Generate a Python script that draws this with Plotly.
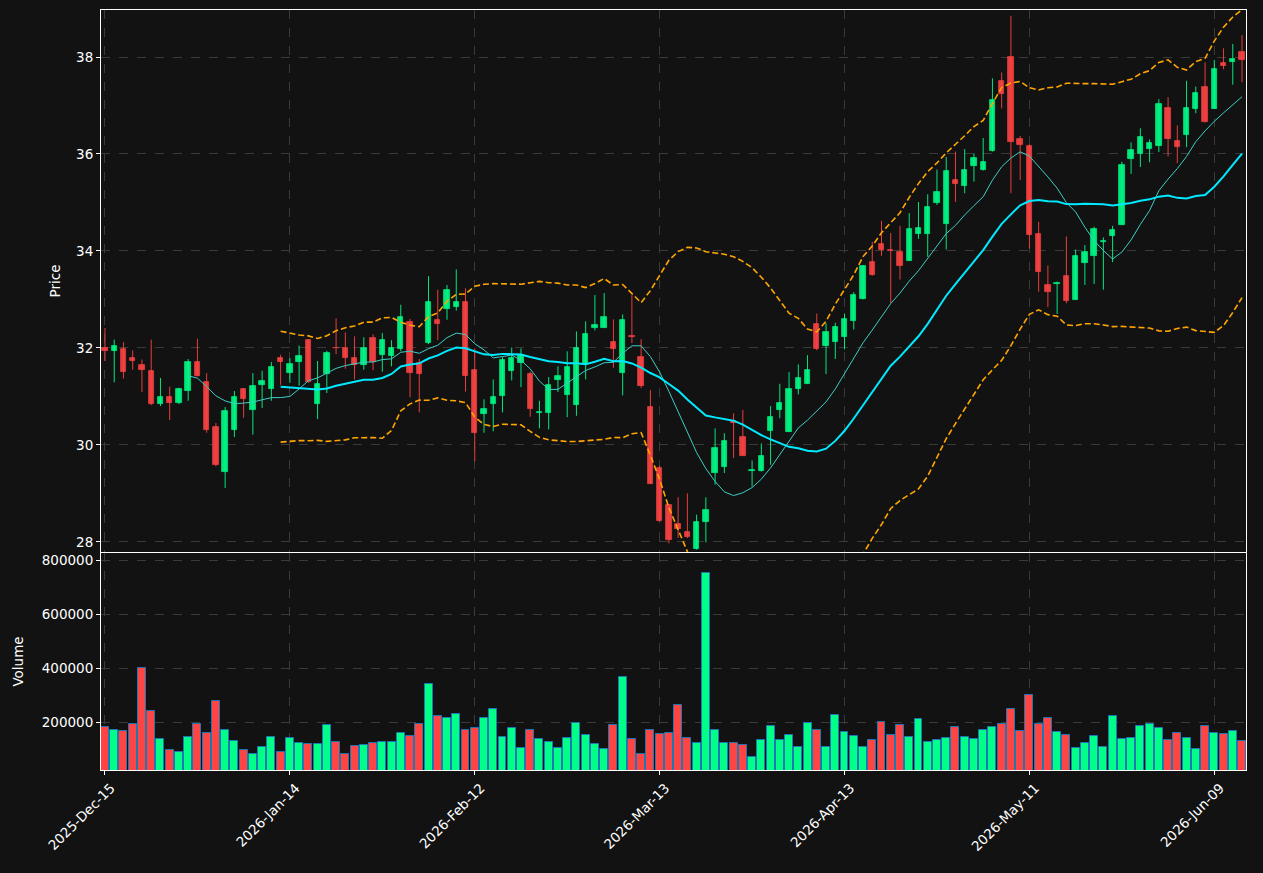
import numpy as np
import pandas as pd
import plotly.graph_objects as go

# ---- data ----
tick_positions = [0, 20, 40, 60, 80, 100, 120]
tick_labels = ["2025-Dec-15", "2026-Jan-14", "2026-Feb-12", "2026-Mar-13",
               "2026-Apr-13", "2026-May-11", "2026-Jun-09"]

opens = [32.00, 31.93, 31.97, 31.80, 31.64, 31.53, 30.84, 30.98, 30.87, 31.11,
         31.70, 31.29, 30.36, 29.44, 30.30, 31.16, 30.71, 31.23, 31.15, 31.80,
         31.49, 31.70, 32.16, 30.85, 31.47, 32.00, 32.00, 31.79, 31.65, 32.21,
         31.86, 31.84, 31.98, 32.54, 31.68, 32.11, 32.58, 32.80, 32.85, 32.95,
         31.55, 30.64, 30.85, 31.00, 31.53, 31.68, 31.46, 30.65, 30.65, 31.33,
         31.02, 30.82, 31.66, 32.42, 32.42, 32.12, 31.49, 32.24, 31.81, 30.79,
         29.53, 28.75, 28.37, 28.21, 27.86, 28.40, 29.43, 29.55, 30.50, 30.16,
         29.46, 29.46, 30.29, 30.72, 30.27, 31.15, 31.26, 32.49, 32.03, 32.13,
         32.23, 32.55, 33.00, 33.77, 34.14, 34.01, 33.98, 33.80, 34.34, 34.34,
         34.99, 34.56, 35.46, 35.35, 35.76, 35.66, 36.07, 37.51, 38.01, 36.31,
         36.17, 34.36, 33.29, 33.31, 33.48, 32.99, 33.76, 33.90, 34.18, 34.30,
         34.53, 35.90, 36.01, 36.11, 36.17, 36.95, 36.27, 36.40, 36.93, 37.38,
         36.93, 37.88, 37.90, 38.10]
highs = [32.41, 32.17, 32.12, 31.95, 31.76, 32.17, 31.38, 31.20, 31.18, 31.77,
         32.19, 31.48, 30.45, 30.78, 31.11, 31.17, 31.48, 31.53, 31.71, 31.86,
         31.79, 32.05, 32.18, 31.73, 31.94, 32.61, 32.32, 32.24, 32.22, 32.28,
         32.31, 32.16, 32.89, 32.60, 31.77, 33.48, 33.20, 33.30, 33.62, 33.23,
         31.99, 30.94, 31.35, 31.81, 32.01, 31.99, 31.51, 30.91, 31.40, 31.62,
         31.93, 32.34, 32.55, 33.09, 33.13, 32.59, 32.69, 33.09, 32.18, 31.13,
         29.57, 28.78, 28.92, 29.00, 28.56, 28.92, 30.34, 30.24, 30.65, 30.72,
         29.68, 30.03, 30.80, 31.26, 31.50, 31.66, 31.85, 32.71, 32.51, 32.52,
         32.71, 33.15, 33.71, 34.19, 34.62, 34.37, 34.52, 34.78, 35.01, 35.17,
         35.68, 35.94, 36.05, 36.10, 36.01, 36.33, 37.56, 37.68, 38.85, 36.37,
         36.20, 34.60, 33.70, 33.37, 34.30, 34.03, 34.12, 34.50, 34.28, 34.52,
         35.84, 36.24, 36.53, 36.30, 37.13, 37.17, 36.59, 37.51, 37.39, 37.89,
         37.94, 38.18, 38.27, 38.45]
lows = [31.73, 31.29, 31.37, 31.55, 31.09, 30.82, 30.80, 30.51, 30.84, 30.91,
        31.41, 30.25, 29.56, 29.11, 30.16, 30.56, 30.21, 30.76, 30.91, 31.24,
        31.28, 31.22, 31.28, 30.53, 31.07, 31.87, 31.57, 31.35, 31.55, 31.54,
        31.51, 31.62, 31.93, 30.98, 30.67, 32.08, 32.16, 32.58, 32.77, 31.10,
        29.66, 30.25, 30.28, 30.67, 31.33, 31.19, 30.58, 30.34, 30.32, 31.09,
        30.57, 30.60, 31.35, 32.36, 32.42, 31.59, 31.02, 32.10, 31.17, 29.19,
        28.42, 27.97, 28.08, 28.08, 27.84, 27.99, 29.18, 29.42, 29.73, 29.78,
        29.14, 29.45, 29.59, 30.55, 30.27, 31.04, 31.26, 31.95, 31.46, 31.77,
        31.97, 32.38, 33.00, 33.49, 33.90, 32.92, 33.41, 33.80, 34.25, 33.88,
        34.95, 34.03, 35.01, 35.19, 35.43, 35.66, 36.05, 36.94, 35.19, 35.46,
        34.05, 33.16, 32.84, 32.70, 32.92, 32.99, 33.30, 33.32, 33.20, 33.77,
        34.53, 35.59, 35.73, 35.83, 36.04, 35.95, 35.81, 36.14, 36.84, 36.65,
        36.93, 37.75, 37.43, 37.48]
closes = [31.93, 32.03, 31.50, 31.73, 31.54, 30.84, 30.98, 30.86, 31.16, 31.70,
          31.42, 30.30, 29.58, 30.69, 30.98, 30.94, 31.22, 31.31, 31.61, 31.70,
          31.66, 31.84, 31.29, 31.26, 31.90, 31.99, 31.80, 31.64, 32.00, 31.71,
          32.16, 32.00, 32.64, 31.49, 31.46, 32.95, 32.50, 33.20, 32.95, 31.42,
          30.25, 30.74, 30.99, 31.75, 31.79, 31.86, 30.73, 30.68, 31.23, 31.42,
          31.61, 32.00, 32.29, 32.47, 32.64, 31.97, 32.58, 32.23, 31.22, 29.20,
          28.42, 28.04, 28.26, 28.09, 28.41, 28.65, 29.94, 30.08, 30.46, 29.78,
          29.49, 29.77, 30.58, 30.87, 31.15, 31.38, 31.55, 31.98, 32.32, 32.43,
          32.59, 33.10, 33.68, 33.51, 34.01, 33.99, 33.70, 34.45, 34.47, 34.90,
          35.21, 35.65, 35.38, 35.67, 35.92, 35.84, 37.11, 37.23, 36.25, 36.19,
          34.33, 33.57, 33.16, 33.34, 32.96, 33.90, 33.98, 34.45, 34.21, 34.43,
          35.77, 36.08, 36.35, 36.22, 37.03, 36.30, 36.15, 36.95, 37.26, 36.65,
          37.75, 37.82, 37.96, 37.94]
volumes = [181500, 170400, 166700, 192600, 400000, 240700, 137000, 96300, 88900, 144400,
           192600, 159300, 277800, 170400, 129600, 96300, 81500, 107400, 144400, 88900,
           140700, 122200, 118500, 118500, 188900, 125900, 81500, 111100, 114800, 122200,
           125900, 125900, 159300, 148100, 192600, 340700, 222200, 214800, 229600, 170400,
           177800, 214800, 248100, 144400, 177800, 103700, 170400, 137000, 125900, 103700,
           140700, 196300, 151900, 118500, 100000, 188900, 366700, 137000, 81500, 170400,
           155600, 159300, 263000, 140700, 122200, 751900, 170400, 122200, 122200, 114800,
           70400, 133300, 185200, 133300, 151900, 107400, 196300, 170400, 107400, 225900,
           163000, 148100, 107400, 133300, 200000, 151900, 188900, 144400, 211100, 125900,
           133300, 140700, 181500, 144400, 137000, 170400, 181500, 192600, 248100, 166700,
           300000, 192600, 214800, 163000, 151900, 103700, 122200, 148100, 107400, 222200,
           137000, 140700, 185200, 192600, 177800, 133300, 159300, 140700, 100000, 185200,
           159300, 155600, 166700, 129600]

# ---- styling ----
BG = "#121212"
UP_C = "#00ff88"
DN_C = "#ff4444"
FONT = "DejaVu Sans"
FS = 13.5

n = len(closes)
idx = np.arange(n)
o = np.array(opens); h = np.array(highs); l = np.array(lows); c = np.array(closes)
up = c >= o

close_s = pd.Series(c)
ma10 = close_s.rolling(10).mean()
ma20 = close_s.rolling(20).mean()
sd20 = close_s.rolling(20).std(ddof=0)
bb_up = ma20 + 2 * sd20
bb_dn = ma20 - 2 * sd20

fig = go.Figure()

# wicks
for mask, col in ((up, UP_C), (~up, DN_C)):
    xs, ys = [], []
    for i in idx[mask]:
        xs += [i, i, None]
        ys += [l[i], h[i], None]
    fig.add_trace(go.Scatter(x=xs, y=ys, mode="lines", line=dict(color=col, width=1),
                             opacity=0.9, hoverinfo="skip", showlegend=False,
                             xaxis="x", yaxis="y"))

# bodies
body_base = np.minimum(o, c)
body_h = np.abs(c - o)
body_cols = [UP_C if u else DN_C for u in up]
fig.add_trace(go.Bar(x=idx, y=body_h, base=body_base, width=0.58,
                     marker=dict(color=body_cols, line=dict(color=body_cols, width=0.8)),
                     opacity=0.9, showlegend=False, xaxis="x", yaxis="y"))

# moving averages
fig.add_trace(go.Scatter(x=idx, y=ma10, mode="lines", line=dict(color="#3ccfc6", width=1),
                         showlegend=False, xaxis="x", yaxis="y"))
fig.add_trace(go.Scatter(x=idx, y=ma20, mode="lines", line=dict(color="#00eaff", width=2),
                         showlegend=False, xaxis="x", yaxis="y"))
# bollinger bands
for band in (bb_up, bb_dn):
    fig.add_trace(go.Scatter(x=idx, y=band, mode="lines",
                             line=dict(color="#ffa500", width=1.6, dash="6px,3px"),
                             showlegend=False, xaxis="x", yaxis="y"))

# volume
vol_cols = [UP_C if u else DN_C for u in up]
fig.add_trace(go.Bar(x=idx, y=volumes, width=0.86,
                     marker=dict(color=vol_cols, line=dict(color="#1f77b4", width=1)),
                     showlegend=False, xaxis="x2", yaxis="y2"))

axis_common = dict(showline=True, linecolor="white", linewidth=1, mirror=True,
                   gridcolor="#3a3a3a", griddash="dash", gridwidth=0.8,
                   zeroline=False, ticks="outside", tickcolor="white", ticklen=4,
                   tickfont=dict(family=FONT, size=FS, color="white"))

xr = [-0.43, n - 1 + 0.43]
fig.update_layout(
    width=1263, height=873,
    paper_bgcolor=BG, plot_bgcolor=BG,
    margin=dict(l=101, r=17, t=10, b=103),
    barmode="overlay", bargap=0,
    showlegend=False,
    xaxis=dict(domain=[0, 1], anchor="y", range=xr, tickvals=tick_positions,
               showticklabels=False, **axis_common),
    yaxis=dict(domain=[0.2868, 1], anchor="x", range=[27.79, 38.97],
               tickvals=[28, 30, 32, 34, 36, 38],
               title=dict(text="Price", font=dict(family=FONT, size=FS, color="white"), standoff=12),
               **axis_common),
    xaxis2=dict(domain=[0, 1], anchor="y2", range=xr, matches="x", tickvals=tick_positions,
                ticktext=tick_labels, tickangle=-45, ticklabelshift=6, **axis_common),
    yaxis2=dict(domain=[0, 0.2855], anchor="x2", range=[23300, 826000],
                tickvals=[200000, 400000, 600000, 800000],
                ticktext=["200000", "400000", "600000", "800000"],
                title=dict(text="Volume", font=dict(family=FONT, size=FS, color="white"), standoff=15),
                **axis_common),
)

fig.write_html("out.html")
